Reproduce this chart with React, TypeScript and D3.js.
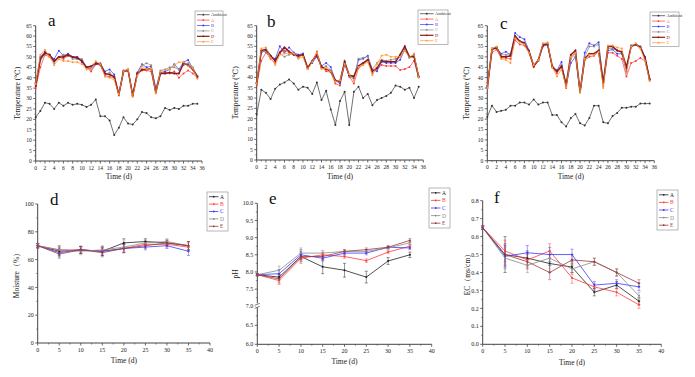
import React from "react";
import * as d3 from "d3";

// ---------- data ----------
const tempDays = [0,1,2,3,4,5,6,7,8,9,10,11,12,13,14,15,16,17,18,19,20,21,22,23,24,25,26,27,28,29,30,31,32,33,34,35];
const tempSeriesNames = ["Ambient", "A", "B", "C", "D", "E"];

const ambA = [21,24,28,27.5,25,28,26.5,28,27,27.5,27,26,27,29.5,21.5,21.5,19.5,12.5,16,21,18,17.5,20,23.5,23,21,20.5,21.5,25.5,24.5,25.5,25,26.5,26.5,27.5,27.5];
const A_a = [35,45,51,50,48,50,49,50.5,50,50,48.5,45,43,46.5,46,41,40.5,40,31.5,43,44,31,41.5,43.5,43.5,43,32.5,42,42.5,42,43,40,42,43.5,42,40];
const B_a = [37,50,52.5,51,49,53,50.5,51.5,50,50,47.5,45,44,46.5,47,43,44,41.5,32,43,44,31.5,42.5,46.5,45,45.5,35,42.5,43,44,46.5,44,47.5,48.5,44.5,40.5];
const C_a = [37,48,52,50.5,47,50,51,51,49,49,49,45,44.5,47,46.5,41.5,42.5,40.5,32,43.5,44,31.5,42,46,47,46,34,43.5,44,45,45,44,46,47,45,41];
const D_a = [36,49,52,51,48,50,50,51,50,49.5,48,45,45.5,47,46.5,42,41.5,40.5,32,43,43.5,31.5,42,44,44,44.5,33,42,42,42.5,42,42,47,46,44,40.5];
const E_a = [37,51,53.5,50,46,49,48,48,47.5,47.5,46.5,44,44,48,46.5,40.5,40,39,32,43,44,31,41,45.5,44,44.5,32.5,43,44,44,46,47.5,47.5,45.5,44.5,39.5];

const ambB = [22,34,32.5,29.5,34.5,36.5,37.5,39,37,34,35.5,35,32,37.5,29,33.5,24.5,17,28.5,33,17,33,35.5,30,32,26.5,29,30,31,32.5,36,35.5,34,35,30,35.5];
const A_b = [36,48,52,49,47,52,53,52,51,49.5,51,44,47.5,52.5,45,43,42.5,37,36,47,40.5,37,44.5,46,48.5,42,44,46,45.5,45.5,45.5,43.5,44,45,48,40];
const B_b = [37,52,53,50,49,55,52,54.5,52,51,51.5,45,47,50,45.5,47,45,38.5,37,46,41,39.5,48.5,49,50.5,43.5,43,47.5,47,47,47,48.5,53.5,49.5,51,40.5];
const C_b = [37,53,52,50.5,48,51.5,50,51,51.5,50,51,45,47.5,51,44.5,45.5,43.5,38,38,48,40,40,49,49.5,50,44,47,48.5,48,48.5,49,50,53,50,50.5,40.5];
const D_b = [37,53,53.5,50.5,48,52,54.5,52.5,51,50.5,51,44.5,48,51,45,44,43,38.5,38,47.5,41,40.5,45.5,47,48.5,43,44.5,48,47.5,47.5,47.5,51,55,50,50,40];
const E_b = [37,54,54.5,49.5,46,51,51.5,51.5,51.5,49,50,44,47.5,52,44,44.5,43,38,38.5,46.5,41.5,38.5,45,46,47.5,41,46.5,50.5,51,50,50,50,53,49.5,51.5,40];

const ambC = [21,26.5,23.5,24,24.5,26.5,26.5,28,28,27,29.5,27,28,28,22,22,18.5,16.5,20.5,22.5,18,17,20.5,26.5,26.5,18.5,18,21.5,23,25.5,25.5,26,26,27.5,27.5,27.5];
const A_c = [35,52,53.5,49.5,49.5,49,58,56,55.5,52,45,48,55.5,56,45,42,45,35,50,52,33,48.5,50,50.5,52.5,36,52,52,50.5,49,40.5,47,48,49.5,48,38.5];
const B_c = [36,54,54.5,51.5,52.5,51,61.5,59.5,58.5,53,46,48.5,55,56,45,43.5,47.5,36,47,50,33,52,56.5,55.5,57,38,53,53.5,51.5,51.5,43,55.5,56,55,50,39.5];
const C_c = [35,54,54.5,51,51,51.5,59.5,57.5,57,52.5,46,48,56,56.5,45,43,46,36.5,49,51.5,33,50,55,55,56,37,54,54,53,52,44,55,56,55,49.5,39.5];
const D_c = [35,53.5,54.5,50,50,50.5,60,57.5,56.5,52.5,45.5,48.5,56,56,45.5,43,45.5,36.5,51,53,33,49,51.5,51.5,53,37.5,55,55,53,52.5,45,55,56,54.5,49.5,39];
const E_c = [35,54,55,49,48.5,47,59,57,56,52,46,48.5,56.5,57,45,40.5,44,35.5,50,52,33,49,51,51,52.5,35,55.5,55.5,54.5,54,42,55,56.5,54,48,38.5];

const tempXTicks = [0,2,4,6,8,10,12,14,16,18,20,22,24,26,28,30,32,34,36];
const tempYTicks = [0,5,10,15,20,25,30,35,40,45,50,55,60,65];

const sampleDays = [0,5,10,15,20,25,30,35];
const sampleSeriesNames = ["A", "B", "C", "D", "E"];
const sampleXTicks = [0,5,10,15,20,25,30,35,40];

const moistA = [70,66,67,66,72,73,72,70];
const moistB = [70,67,67,66,68,71,71,69];
const moistC = [70,65,67,66,68,69,70,66];
const moistD = [70,67,66,67,69,72,73,70];
const moistE = [70,64,67,65,68,70,72,70];
const moistErr = [1.5,3,2.5,3,3,2,2,3];
const moistYTicks = [0,20,40,60,80,100];

const phA = [7.92,7.85,8.45,8.15,8.05,7.85,8.32,8.5];
const phB = [7.92,7.75,8.4,8.5,8.45,8.33,8.58,8.75];
const phC = [7.92,7.95,8.5,8.4,8.55,8.55,8.72,8.7];
const phD = [7.92,8.05,8.55,8.55,8.6,8.6,8.7,8.85];
const phE = [7.92,7.8,8.45,8.45,8.6,8.65,8.72,8.92];
const phErrA = [0.03,0.08,0.08,0.2,0.2,0.17,0.1,0.08];
const phErr = [0.03,0.12,0.15,0.08,0.05,0.05,0.04,0.05];
const phYTicks = [6.0,6.5,7.0,7.5,8.0,8.5,9.0,9.5,10.0];

const ecA = [0.65,0.5,0.48,0.45,0.43,0.29,0.33,0.24];
const ecB = [0.65,0.52,0.47,0.52,0.37,0.32,0.29,0.22];
const ecC = [0.65,0.49,0.51,0.5,0.5,0.33,0.34,0.32];
const ecD = [0.65,0.48,0.44,0.48,0.42,0.46,0.4,0.27];
const ecE = [0.65,0.5,0.46,0.4,0.47,0.46,0.4,0.34];
const ecErr = [0.01,0.06,0.04,0.04,0.03,0.02,0.02,0.02];
const ecErrA = [0.01,0.1,0.04,0.05,0.03,0.02,0.02,0.02];
const ecYTicks = [0,0.1,0.2,0.3,0.4,0.5,0.6,0.7,0.8];

// ---------- styles ----------
const tempColors = ["#333333", "#ff3b3b", "#3a3aff", "#8a8a8a", "#8b1a1a", "#ff9a30"];
const sampleColors = ["#222222", "#ff3b3b", "#3a3aff", "#8a8a8a", "#9a3a3a"];
const FONT = "'Liberation Serif', 'DejaVu Serif', serif";

type Series = { name: string; values: number[]; color: string; width: number; err?: number[] };

type PanelProps = {
  letter: string;
  left: number; right: number; top: number; bottom: number;
  xDomain: number[]; yDomain: number[]; yRange?: number[];
  xTicks: number[]; yTicks: number[];
  yFmt: (v: number) => string;
  xs: number[];
  series: Series[];
  yTitle: string;
  legend: { x: number; y: number; w: number; rowH: number; fs: number };
  letterPos: [number, number];
  yTitleX: number;
  xTitleY: number;
  tickFs: number;
  titleFs: number;
  breakAt?: number;
  xMinor?: boolean;
};

function Panel(p: PanelProps) {
  const x = d3.scaleLinear().domain(p.xDomain).range([p.left, p.right]);
  const y = d3.scaleLinear().domain(p.yDomain).range(p.yRange ?? [p.bottom, p.top]);
  const line = d3.line<number>().x((_, i) => x(p.xs[i])).y((d) => y(d));
  const axisColor = "#444";
  const xMinorTicks: number[] = [];
  for (let i = 0; i < p.xTicks.length - 1; i++) xMinorTicks.push((p.xTicks[i] + p.xTicks[i + 1]) / 2);
  const yMinorTicks: number[] = [];
  for (let i = 0; i < p.yTicks.length - 1; i++) yMinorTicks.push((p.yTicks[i] + p.yTicks[i + 1]) / 2);
  const axisTop = y(p.yDomain[p.yDomain.length - 1]);
  return (
    <g fontFamily={FONT}>
      {/* axes */}
      <line x1={p.left} x2={p.left} y1={axisTop} y2={p.bottom} stroke={axisColor} strokeWidth={1} />
      <line x1={p.left} x2={p.right} y1={p.bottom} y2={p.bottom} stroke={axisColor} strokeWidth={1} />
      {p.xTicks.map((t) => (
        <g key={"xt" + t}>
          <line x1={x(t)} x2={x(t)} y1={p.bottom} y2={p.bottom + 2.5} stroke={axisColor} strokeWidth={0.8} />
          <text x={x(t)} y={p.bottom + 3 + p.tickFs} fontSize={p.tickFs} textAnchor="middle" fill="#222">{t}</text>
        </g>
      ))}
      {xMinorTicks.map((t) => (
        <line key={"xm" + t} x1={x(t)} x2={x(t)} y1={p.bottom} y2={p.bottom + 1.5} stroke={axisColor} strokeWidth={0.6} />
      ))}
      {p.yTicks.map((t) => (
        <g key={"yt" + t}>
          <line x1={p.left - 2.5} x2={p.left} y1={y(t)} y2={y(t)} stroke={axisColor} strokeWidth={0.8} />
          <text x={p.left - 4} y={y(t) + p.tickFs * 0.35} fontSize={p.tickFs} textAnchor="end" fill="#222">{p.yFmt(t)}</text>
        </g>
      ))}
      {yMinorTicks.map((t) => (
        <line key={"ym" + t} x1={p.left - 1.5} x2={p.left} y1={y(t)} y2={y(t)} stroke={axisColor} strokeWidth={0.6} />
      ))}
      {p.breakAt !== undefined && (
        <g>
          <rect x={p.left - 2} y={y(p.breakAt) - 3} width={4} height={4} fill="white" />
          <line x1={p.left - 2.5} x2={p.left + 2.5} y1={y(p.breakAt) - 1} y2={y(p.breakAt) - 3} stroke={axisColor} strokeWidth={0.7} />
          <line x1={p.left - 2.5} x2={p.left + 2.5} y1={y(p.breakAt) + 2} y2={y(p.breakAt)} stroke={axisColor} strokeWidth={0.7} />
        </g>
      )}
      {/* titles */}
      <text x={(p.left + p.right) / 2} y={p.xTitleY} fontSize={p.titleFs} textAnchor="middle" fill="#222">Time  (d)</text>
      <text transform={`translate(${p.yTitleX},${(p.top + p.bottom) / 2}) rotate(-90)`} fontSize={p.titleFs} textAnchor="middle" fill="#222">{p.yTitle}</text>
      <text x={p.letterPos[0]} y={p.letterPos[1]} fontSize={17} fill="#111">{p.letter}</text>
      {/* error bars */}
      {p.series.map((s) =>
        s.err ? (
          <g key={"e" + s.name} stroke={s.color} strokeWidth={0.6} opacity={0.8}>
            {s.values.map((v, i) => (
              <g key={i}>
                <line x1={x(p.xs[i])} x2={x(p.xs[i])} y1={y(v - s.err![i])} y2={y(v + s.err![i])} />
                <line x1={x(p.xs[i]) - 1.5} x2={x(p.xs[i]) + 1.5} y1={y(v - s.err![i])} y2={y(v - s.err![i])} />
                <line x1={x(p.xs[i]) - 1.5} x2={x(p.xs[i]) + 1.5} y1={y(v + s.err![i])} y2={y(v + s.err![i])} />
              </g>
            ))}
          </g>
        ) : null
      )}
      {/* lines */}
      {p.series.map((s) => (
        <g key={"s" + s.name}>
          <path d={line(s.values) ?? ""} fill="none" stroke={s.color} strokeWidth={s.width} />
          {s.values.map((v, i) => (
            <circle key={i} cx={x(p.xs[i])} cy={y(v)} r={1} fill={s.color} />
          ))}
        </g>
      ))}
      {/* legend */}
      <g>
        <rect x={p.legend.x} y={p.legend.y} width={p.legend.w} height={p.legend.rowH * p.series.length + 2} fill="white" stroke="#999" strokeWidth={0.7} />
        {p.series.map((s, i) => {
          const cy = p.legend.y + 1 + p.legend.rowH * (i + 0.5);
          const lx = p.legend.x + 2;
          const lw = p.legend.w * 0.45;
          return (
            <g key={"l" + s.name}>
              <line x1={lx} x2={lx + lw} y1={cy} y2={cy} stroke={s.color} strokeWidth={Math.min(s.width, 1.2)} />
              <circle cx={lx + lw / 2} cy={cy} r={0.9} fill={s.color} />
              <text x={lx + lw + 1.5} y={cy + p.legend.fs * 0.35} fontSize={p.legend.fs} fill={s.color}>{s.name}</text>
            </g>
          );
        })}
      </g>
    </g>
  );
}

function tempSeries(amb: number[], a: number[], b: number[], c: number[], d: number[], e: number[]): Series[] {
  const vals = [amb, a, b, c, d, e];
  return tempSeriesNames.map((n, i) => ({ name: n, values: vals[i], color: tempColors[i], width: i === 4 ? 1.5 : 0.7 }));
}

function sampleSeries(vals: number[][], errs: number[][]): Series[] {
  return sampleSeriesNames.map((n, i) => ({ name: n, values: vals[i], color: sampleColors[i], width: 0.8, err: errs[i] }));
}

export default function App() {
  const topCommon = {
    top: 25.7, bottom: 161, xDomain: [0, 36], yDomain: [0, 65],
    xTicks: tempXTicks, yTicks: tempYTicks, yFmt: (v: number) => String(v), xs: tempDays,
    yTitle: "Temperature  (℃)", xTitleY: 179, tickFs: 5.5, titleFs: 7.5,
  };
  return (
    <svg width={695} height={377} style={{ position: "absolute", left: 0, top: 0, background: "white" }}>
      <rect x={0} y={0} width={695} height={377} fill="white" />
      <Panel {...topCommon} letter="a" left={35.7} right={202}
        series={tempSeries(ambA, A_a, B_a, C_a, D_a, E_a)}
        legend={{ x: 195, y: 11, w: 28, rowH: 5.4, fs: 4.5 }} letterPos={[48, 26]} yTitleX={20} />
      <Panel {...topCommon} letter="b" left={256.7} right={423.3} bottom={160}
        series={tempSeries(ambB, A_b, B_b, C_b, D_b, E_b)}
        legend={{ x: 418, y: 10, w: 30, rowH: 5.4, fs: 4.5 }} letterPos={[267, 27]} yTitleX={238} />
      <Panel {...topCommon} letter="c" left={487.3} right={654.3} bottom={160.7}
        series={tempSeries(ambC, A_c, B_c, C_c, D_c, E_c)}
        legend={{ x: 650, y: 12, w: 29, rowH: 5.4, fs: 4.5 }} letterPos={[500, 29]} yTitleX={469} />

      <Panel letter="d" left={37.7} right={210} top={204} bottom={343}
        xDomain={[0, 40]} yDomain={[0, 100]} xTicks={sampleXTicks} yTicks={moistYTicks}
        yFmt={(v) => String(v)} xs={sampleDays}
        series={sampleSeries([moistA, moistB, moistC, moistD, moistE], [moistErr, moistErr, moistErr, moistErr, moistErr])}
        yTitle="Moisture（%）" legend={{ x: 207, y: 192, w: 21, rowH: 7.4, fs: 5.5 }}
        letterPos={[50, 205]} yTitleX={19} xTitleY={363} tickFs={6} titleFs={7.5} />
      <Panel letter="e" left={257.3} right={431.7} top={203.3} bottom={344.3}
        xDomain={[0, 40]} yDomain={[6, 7, 10]} yRange={[344.3, 306.3, 203.3]}
        xTicks={sampleXTicks} yTicks={phYTicks}
        yFmt={(v) => v.toFixed(1)} xs={sampleDays}
        series={sampleSeries([phA, phB, phC, phD, phE], [phErrA, phErr, phErr, phErr, phErr])}
        yTitle="pH" legend={{ x: 429, y: 188, w: 21, rowH: 7.6, fs: 5.5 }}
        letterPos={[269, 204]} yTitleX={238} xTitleY={364} tickFs={6} titleFs={7.5} breakAt={7.0} />
      <Panel letter="f" left={482.7} right={661.3} top={200.7} bottom={344.3}
        xDomain={[0, 40]} yDomain={[0, 0.8]} xTicks={sampleXTicks} yTicks={ecYTicks}
        yFmt={(v) => v.toFixed(1)} xs={sampleDays}
        series={sampleSeries([ecA, ecB, ecC, ecD, ecE], [ecErrA, ecErr, ecErr, ecErr, ecErr])}
        yTitle="EC（ms/cm）" legend={{ x: 657, y: 190, w: 21, rowH: 7.6, fs: 5.5 }}
        letterPos={[494, 203]} yTitleX={470} xTitleY={365} tickFs={6} titleFs={7.5} />
    </svg>
  );
}
